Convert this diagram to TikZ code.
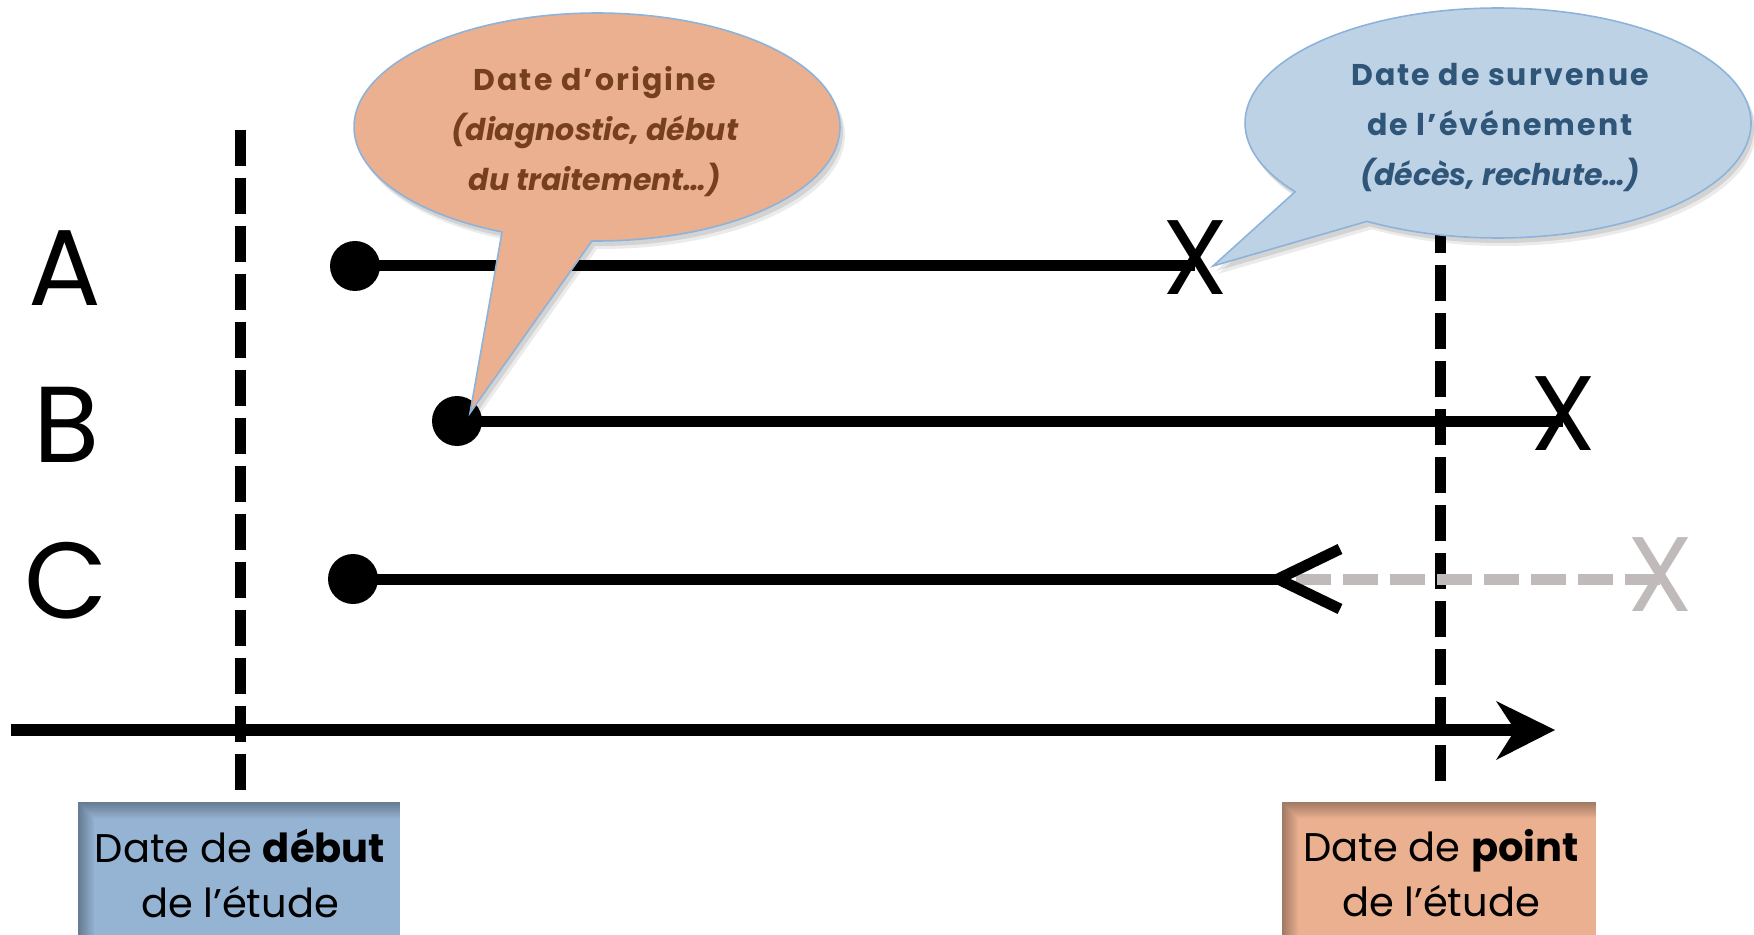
\documentclass[tikz,border=0pt]{standalone}
\usepackage{fontspec}
\setmainfont{Poppins}
\definecolor{orangeF}{HTML}{EAB08F}
\definecolor{bubBlue}{HTML}{BED2E6}
\definecolor{boxBlue}{HTML}{95B3D3}
\definecolor{bordBlue}{HTML}{8DB3DA}
\definecolor{brownT}{HTML}{76401E}
\definecolor{blueT}{HTML}{2F5679}
\definecolor{greyX}{HTML}{C0BABA}
\newcommand{\wideup}[1]{{\addfontfeatures{LetterSpace=7}#1}}
\begin{document}
\begin{tikzpicture}[x=0.5pt,y=-0.5pt,
  thick line/.style={line width=5.5pt},
  vdash/.style={line width=5.5pt, dash pattern=on 18pt off 6pt},
  gdash/.style={line width=5.5pt, draw=greyX, dash pattern=on 17.5pt off 6pt},
  dot/.style={circle, fill=black, inner sep=0pt, minimum size=25pt},
  rowlab/.style={font=\fontsize{54}{60}\selectfont, inner sep=0pt},
  cross/.style={font=\fontsize{53}{60}\selectfont, inner sep=0pt},
  btext/.style={align=center, font=\fontsize{15}{25}\selectfont\bfseries, inner sep=0pt},
  boxtext/.style={align=center, font=\fontsize{20}{27.5}\selectfont, inner sep=0pt},
  bubborder/.style={draw=bordBlue, line width=0.8pt}
]
\useasboundingbox (0,0) rectangle (1754,935);

% bottom boxes
\fill[boxBlue] (78,802) rectangle (400,945);
\foreach \i [evaluate=\i as \op using 0.30*(1-\i/8)] in {0,...,7}
  \draw[line width=1pt, draw=black, opacity=\op] ({79+2*\i},945) -- ({79+2*\i},{803+2*\i}) -- (400,{803+2*\i});
\fill[orangeF] (1282,802) rectangle (1596,945);
\foreach \i [evaluate=\i as \op using 0.30*(1-\i/8)] in {0,...,7}
  \draw[line width=1pt, draw=black, opacity=\op] ({1283+2*\i},945) -- ({1283+2*\i},{803+2*\i}) -- (1596,{803+2*\i});
\node[boxtext] (boxL) at (240,873) {Date de \textbf{début}\\de l’étude};
\node[boxtext] (boxR) at (1441,873) {Date de \textbf{point}\\de l’étude};

% vertical dashed lines
\coordinate (vLtop) at (240,130);
\coordinate (vLbot) at (240,790);
\coordinate (vRtop) at (1440,217);
\coordinate (vRbot) at (1440,781);
\draw[vdash] (vLtop) -- (vLbot);
\draw[vdash] (vRtop) -- (vRbot);

% row labels
\node[rowlab] (labA) at (65,268) {A};
\node[rowlab] (labB) at (67,425) {B};
\node[rowlab] (labC) at (66,581) {C};

% dots and crosses
\node[dot] (dA) at (355,266) {};
\node[dot] (dB) at (457,421) {};
\node[dot] (dC) at (353,579) {};
\node[cross] (xA) at (1195,258) {X};
\node[cross] (xB) at (1563,414) {X};
\node[cross, text=greyX] (xC) at (1660,575) {X};

% row C censored part
\coordinate (cV) at (1278,579);
\coordinate (cU) at (1340,549);
\coordinate (cD) at (1340,609);
\draw[gdash] (xC.center |- cV) -- (cV);

\draw[thick line] (dA.center) -- (dA.center -| xA.center);
\draw[thick line] (dB.center) -- (dB.center -| xB.center);
\draw[thick line] (dC.center) -- (cV);
\draw[thick line] (cU) -- (cV) -- (cD);

% time axis
\coordinate (axL) at (11,730);
\coordinate (axN) at (1515,730);
\coordinate (axT) at (1555,730);
\coordinate (axBT) at (1496,701);
\coordinate (axBB) at (1496,760);
\draw[line width=6pt] (axL) -- (axN);
\fill (axT) -- (axBT) -- (axN) -- (axBB) -- cycle;

% bubble 1 (origin)
\coordinate (tipO) at (470,413);
\fill[black, opacity=0.10] plot[domain=113:451.2, samples=150] ({600+243*cos(\x)},{132+114*sin(\x)}) -- (473,418) -- cycle;
\fill[black, opacity=0.08] plot[domain=113:451.2, samples=150] ({602+243*cos(\x)},{135+114*sin(\x)}) -- (475,421) -- cycle;
\path[fill=orangeF, bubborder] plot[domain=113:451.2, samples=150] ({597+243*cos(\x)},{127+114*sin(\x)}) -- (tipO) -- cycle;
\node[btext, text=brownT] (origT) at (595,132) {\wideup{Date d’origine}\\\textit{(diagnostic, début}\\\textit{du traitement…)}};

% bubble 2 (event)
\coordinate (tipE) at (1213,266);
\fill[black, opacity=0.10] plot[domain=143.3:481.2, samples=150] ({1501+253*cos(\x)},{128+115*sin(\x)}) -- (1216,271) -- cycle;
\fill[black, opacity=0.08] plot[domain=143.3:481.2, samples=150] ({1503+253*cos(\x)},{131+115*sin(\x)}) -- (1218,274) -- cycle;
\path[fill=bubBlue, bubborder] plot[domain=143.3:481.2, samples=150] ({1498+253*cos(\x)},{123+115*sin(\x)}) -- (tipE) -- cycle;
\node[btext, text=blueT] (evT) at (1500,128) {\wideup{Date de survenue}\\\wideup{de l’événement}\\\textit{(décès, rechute…)}};
\end{tikzpicture}
\end{document}
